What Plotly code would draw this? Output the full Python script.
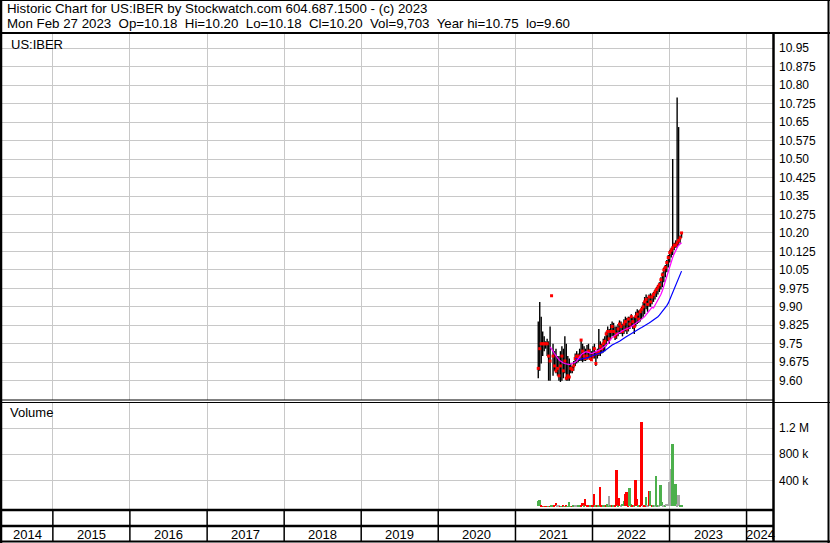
import pandas as pd
import plotly.graph_objects as go

# weekly bars for US:IBER, last bar is Mon Feb 27 2023
last_day = "2023-02-27"

high = [9.84, 9.92, 9.86, 9.80, 9.78, 9.76, 9.77, 9.76, 9.82, 9.945,
        9.75, 9.72, 9.73, 9.70, 9.70, 9.72, 9.74, 9.73, 9.78, 9.75,
        9.70, 9.69, 9.67, 9.66, 9.68, 9.71, 9.72, 9.71, 9.73, 9.765,
        9.75, 9.74, 9.73, 9.745, 9.75, 9.73, 9.72, 9.74, 9.75, 9.72,
        9.73, 9.81, 9.76, 9.75, 9.77, 9.78, 9.80, 9.82, 9.81, 9.83,
        9.84, 9.835, 9.82, 9.82, 9.83, 9.845, 9.84, 9.83, 9.85, 9.86,
        9.855, 9.86, 9.86, 9.87, 9.86, 9.86, 9.88, 9.89, 9.885, 9.89,
        9.90, 9.92, 9.94, 9.95, 9.94, 9.95, 9.955, 9.95, 9.96, 9.97,
        9.98, 9.99, 10.00, 10.02, 10.04, 10.06, 10.07, 10.09, 10.11, 10.13,
        10.14, 10.50, 10.16, 10.17, 10.75, 10.63, 10.19, 10.20]

low = [9.61, 9.64, 9.67, 9.70, 9.72, 9.73, 9.70, 9.60, 9.60, 9.945,
       9.62, 9.64, 9.63, 9.62, 9.60, 9.595, 9.60, 9.61, 9.63, 9.60,
       9.60, 9.60, 9.63, 9.63, 9.64, 9.66, 9.67, 9.675, 9.68, 9.68,
       9.675, 9.68, 9.68, 9.685, 9.69, 9.685, 9.68, 9.69, 9.69, 9.66,
       9.69, 9.70, 9.70, 9.71, 9.715, 9.72, 9.74, 9.76, 9.75, 9.77,
       9.78, 9.78, 9.765, 9.77, 9.78, 9.79, 9.79, 9.78, 9.79, 9.80,
       9.79, 9.80, 9.81, 9.82, 9.81, 9.79, 9.82, 9.83, 9.835, 9.84,
       9.85, 9.86, 9.87, 9.89, 9.88, 9.90, 9.90, 9.91, 9.92, 9.93,
       9.94, 9.95, 9.96, 9.97, 9.98, 10.00, 10.02, 10.04, 10.06, 10.08,
       10.10, 10.11, 10.13, 10.14, 10.14, 10.15, 10.16, 10.18]

close = [9.65, 9.73, 9.75, 9.75, 9.75, 9.75, 9.75, 9.70, 9.68, 9.945,
         9.70, 9.66, 9.64, 9.65, 9.62, 9.66, 9.70, 9.64, 9.68, 9.61,
         9.62, 9.615, 9.65, 9.645, 9.66, 9.69, 9.70, 9.69, 9.70, 9.765,
         9.72, 9.70, 9.69, 9.70, 9.72, 9.69, 9.685, 9.70, 9.73, 9.67,
         9.71, 9.72, 9.74, 9.73, 9.75, 9.76, 9.79, 9.80, 9.77, 9.80,
         9.82, 9.80, 9.78, 9.79, 9.81, 9.83, 9.82, 9.80, 9.83, 9.84,
         9.81, 9.85, 9.83, 9.86, 9.84, 9.82, 9.86, 9.87, 9.85, 9.88,
         9.89, 9.90, 9.92, 9.93, 9.91, 9.94, 9.92, 9.94, 9.95, 9.96,
         9.97, 9.98, 9.99, 10.01, 10.03, 10.05, 10.06, 10.08, 10.10, 10.12,
         10.13, 10.14, 10.15, 10.15, 10.16, 10.17, 10.18, 10.20]

# moving averages as drawn on the chart (short one starts at bar 8, long one at bar 25)
ma_short = [None] * 8 + [
    9.737, 9.73, 9.72, 9.71, 9.70, 9.69, 9.685, 9.68, 9.675, 9.672,
    9.67, 9.668, 9.665, 9.665, 9.668, 9.67, 9.672, 9.675, 9.68, 9.69,
    9.70, 9.705, 9.71, 9.715, 9.717, 9.717, 9.715, 9.712, 9.71, 9.712,
    9.715, 9.718, 9.72, 9.722, 9.725, 9.73, 9.735, 9.74, 9.745, 9.75,
    9.76, 9.77, 9.775, 9.78, 9.785, 9.79, 9.793, 9.795, 9.80, 9.803,
    9.806, 9.808, 9.81, 9.813, 9.816, 9.82, 9.824, 9.828, 9.832, 9.836,
    9.84, 9.845, 9.85, 9.855, 9.86, 9.868, 9.875, 9.882, 9.89, 9.898,
    9.895, 9.905, 9.915, 9.925, 9.935, 9.95, 9.965, 9.985, 10.0, 10.025,
    10.045, 10.06, 10.08, 10.10, 10.115, 10.13, 10.14, 10.15, 10.155, 10.16]

ma_long = [None] * 25 + [
    9.69, 9.688, 9.686, 9.686, 9.688, 9.69, 9.69, 9.692, 9.693, 9.695,
    9.697, 9.70, 9.703, 9.705, 9.707, 9.709, 9.71, 9.712, 9.715, 9.718,
    9.722, 9.727, 9.732, 9.737, 9.741, 9.745, 9.748, 9.752, 9.755, 9.757,
    9.76, 9.763, 9.767, 9.772, 9.776, 9.78, 9.784, 9.788, 9.792, 9.796,
    9.80, 9.804, 9.807, 9.81, 9.813, 9.816, 9.819, 9.822, 9.826, 9.83,
    9.834, 9.838, 9.842, 9.846, 9.85, 9.855, 9.86, 9.866, 9.873, 9.88,
    9.888, 9.896, 9.905, 9.915, 9.93, 9.945, 9.96, 9.975, 9.99, 10.005,
    10.02, 10.032, 10.045]

volume = [77000, 92000, 5000, 3000, 2000, 4000, 3000, 2000, 3000, 5000,
          15000, 6000, 45000, 8000, 10000, 4000, 3000, 5000, 4000, 6000,
          3000, 60000, 4000, 3000, 5000, 8000, 6000, 14000, 5000, 20000,
          45000, 10000, 107000, 12000, 6000, 14000, 10000, 8000, 185000, 15000,
          6000, 10000, 300000, 5000, 15000, 10000, 12000, 30000, 154000, 10000,
          8000, 10000, 6000, 560000, 20000, 123000, 8000, 35000, 77000, 185000,
          215000, 20000, 277000, 30000, 10000, 20000, 404000, 108000, 15000, 10000,
          1300000, 20000, 15000, 140000, 20000, 235000, 235000, 15000, 8000, 10000,
          466000, 20000, 15000, 323000, 60000, 15000, 20000, 40000, 40000, 374000,
          570000, 954000, 50000, 338000, 30000, 170000, 15000, 9703]

# u = up week, d = down week, n = unchanged
vol_dir = ("uudduddudu" "uddnndudud" "uuudunnuud" "duddduuddu" "dudduudunu"
           "duddudnuud" "dduududdud" "dndundudun" "uunuununnn" "nuuunnuu")

price_ticks = [9.60, 9.675, 9.75, 9.825, 9.90, 9.975, 10.05, 10.125, 10.20, 10.275,
               10.35, 10.425, 10.50, 10.575, 10.65, 10.725, 10.80, 10.875, 10.95]
price_labels = ["9.60", "9.675", "9.75", "9.825", "9.90", "9.975", "10.05", "10.125", "10.20",
                "10.275", "10.35", "10.425", "10.50", "10.575", "10.65", "10.725", "10.80",
                "10.875", "10.95"]
vol_ticks = [400000, 800000, 1200000]
vol_labels = ["400 k", "800 k", "1.2 M"]
years = list(range(2014, 2025))

header1 = "Historic Chart for US:IBER by Stockwatch.com 604.687.1500 - (c) 2023"
header2 = ("Mon Feb 27 2023  Op=10.18  Hi=10.20  Lo=10.18  Cl=10.20  "
           "Vol=9,703  Year hi=10.75  lo=9.60")

x_start, x_end = "2014-05-05", "2024-05-10"

assert len(high) == len(low) == len(close) == len(volume) == len(vol_dir) == 98

W, H = 830, 543
FONT = "Liberation Sans, Arial, sans-serif"
GRID = "#c8c8c8"


def px(x):
    return x / W


def py(y):
    return 1 - y / H


dates = pd.date_range(end=last_day, periods=len(close), freq="7D")

fig = go.Figure()

# high-low bars
bx, by = [], []
for d, h, l in zip(dates, high, low):
    bx += [d, d, None]
    by += [l, h, None]
fig.add_trace(go.Scatter(x=bx, y=by, mode="lines", line=dict(color="black", width=1.4),
                         hoverinfo="skip"))
fig.add_trace(go.Scatter(x=dates, y=close, mode="markers",
                         marker=dict(symbol="square", size=3, color="#ff0000", line_width=0)))
fig.add_trace(go.Scatter(x=dates, y=ma_long, mode="lines", line=dict(color="#0000ff", width=1.2)))
fig.add_trace(go.Scatter(x=dates, y=ma_short, mode="lines", line=dict(color="#ff00ff", width=1.2)))

dir_colors = {"u": "#4cb04c", "d": "#ff0000", "n": "#a6a6a6"}
fig.add_trace(go.Bar(x=dates, y=volume, xaxis="x2", yaxis="y2",
                     marker=dict(color=[dir_colors[c] for c in vol_dir], line_width=0),
                     width=9 * 86400000))

xcommon = dict(type="date", range=[x_start, x_end], domain=[px(2), px(774)],
               showticklabels=False, ticks="", showgrid=True, gridcolor=GRID, gridwidth=1,
               tick0="2015-01-01", dtick="M12", zeroline=False, showline=False)
ycommon = dict(side="right", ticks="", showgrid=True, gridcolor=GRID, gridwidth=1,
               zeroline=False, showline=False, ticklabelstandoff=4,
               tickfont=dict(family=FONT, size=12, color="black"))

fig.update_layout(
    width=W, height=H,
    margin=dict(l=0, r=0, t=0, b=0),
    paper_bgcolor="white", plot_bgcolor="white",
    showlegend=False, bargap=0,
    xaxis=dict(anchor="y", **xcommon),
    xaxis2=dict(anchor="y2", matches="x", **xcommon),
    yaxis=dict(anchor="x", domain=[py(400), py(33)], range=[9.5216, 11.012],
               tickvals=price_ticks, ticktext=price_labels, **ycommon),
    yaxis2=dict(anchor="x2", domain=[py(509), py(403)], range=[-41500, 1589000],
                tickvals=vol_ticks, ticktext=vol_labels, **ycommon),
)

shapes = []


def hline(y, x0, x1, w):
    shapes.append(dict(type="line", xref="paper", yref="paper", x0=px(x0), x1=px(x1),
                       y0=py(y), y1=py(y), line=dict(color="black", width=w)))


def vline(x, y0, y1, w):
    shapes.append(dict(type="line", xref="paper", yref="paper", x0=px(x), x1=px(x),
                       y0=py(y0), y1=py(y1), line=dict(color="black", width=w)))


# frame
hline(0.5, 0, 830, 1)
hline(33, 0, 830, 2)
hline(400, 0, 774, 1)
hline(402.5, 0, 830, 1)
hline(510, 0, 774, 2.5)
hline(526, 0, 774, 2.5)
hline(541.5, 0, 830, 2)
vline(1, 0, 543, 2.5)
vline(773.5, 33, 542, 2.5)
vline(828.5, 0, 543, 2)

# year separators and labels in the date strip
for yr in years[1:]:
    shapes.append(dict(type="line", xref="x", yref="paper", x0=f"{yr}-01-01", x1=f"{yr}-01-01",
                       y0=py(541), y1=py(510), line=dict(color="black", width=1.5)))

annotations = []
lo_edge, hi_edge = pd.Timestamp(x_start), pd.Timestamp(x_end)
for yr in years:
    a = max(pd.Timestamp(f"{yr}-01-01"), lo_edge)
    b = min(pd.Timestamp(f"{yr + 1}-01-01"), hi_edge)
    annotations.append(dict(x=a + (b - a) / 2, y=py(534), xref="x", yref="paper",
                            text=str(yr), showarrow=False, xanchor="center", yanchor="middle",
                            font=dict(family=FONT, size=13, color="black")))

annotations += [
    dict(x=px(5), y=py(8.5), xref="paper", yref="paper", text=header1, showarrow=False,
         xanchor="left", yanchor="middle", font=dict(family=FONT, size=13.3, color="black")),
    dict(x=px(5), y=py(23.5), xref="paper", yref="paper", text=header2.replace("  ", "\u00a0 "),
         showarrow=False, xanchor="left", yanchor="middle",
         font=dict(family=FONT, size=13.3, color="black")),
    dict(x=px(9), y=py(44), xref="paper", yref="paper", text="US:IBER", showarrow=False,
         xanchor="left", yanchor="middle", font=dict(family=FONT, size=13, color="black")),
    dict(x=px(8), y=py(413), xref="paper", yref="paper", text="Volume", showarrow=False,
         xanchor="left", yanchor="middle", font=dict(family=FONT, size=13, color="black")),
]

fig.update_layout(shapes=shapes, annotations=annotations)

# the page must start at the very top-left corner, like the original bitmap
fig.write_html("out.html", config={"displayModeBar": False},
               post_script="document.body.style.margin='0px';")
